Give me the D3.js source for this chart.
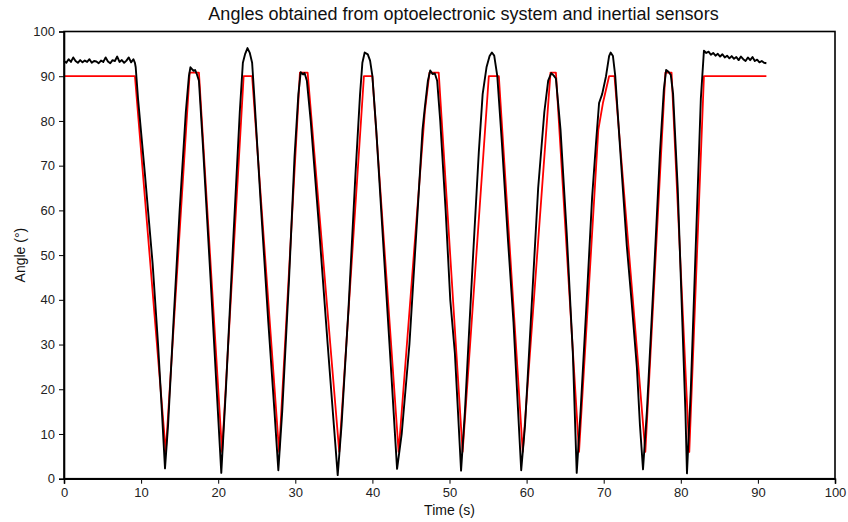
<!DOCTYPE html>
<html>
<head>
<meta charset="utf-8">
<script src="https://cdn.jsdelivr.net/npm/d3@7"></script>
<style>
  html, body { margin: 0; padding: 0; background: #fff; }
  svg { display: block; font-family: "Liberation Sans", Arial, Helvetica, sans-serif; }
</style>
</head>
<body>
<svg id="chart" width="848" height="522"></svg>
<script>
const title = "Angles obtained from optoelectronic system and inertial sensors";
const xLabel = "Time (s)";
const yLabel = "Angle (°)";
const xTicks = [0, 10, 20, 30, 40, 50, 60, 70, 80, 90, 100];
const yTicks = [0, 10, 20, 30, 40, 50, 60, 70, 80, 90, 100];

// Reference (optoelectronic) series – red
const redTime = [0, 9.2, 13.2, 16.3, 17.5, 20.5, 23.3, 24.4, 27.9, 30.6, 31.6, 35.7, 38.9, 40.0, 43.4, 46.8, 47.4, 48.6, 51.7, 55.1, 56.4, 59.5, 63.1, 63.8, 66.8, 69.3, 69.9, 70.7, 71.4, 75.4, 78.0, 78.8, 81.1, 83.0, 91.1];
const redAngle = [90, 90, 6, 90.8, 90.8, 6, 90, 90, 6, 90.8, 90.8, 6, 90, 90, 6, 82, 90.8, 90.8, 6, 90, 90, 6, 90.8, 90.8, 6, 78, 84, 90, 90, 6, 90.8, 90.8, 6, 90, 90];

// Inertial sensor series – black
const blackTime = [
  0, 0.3, 0.6, 0.9, 1.2, 1.5, 1.8, 2.1, 2.4, 2.7, 3.0, 3.3, 3.6, 3.9, 4.2, 4.5, 4.8, 5.1, 5.4, 5.7, 6.0, 6.3, 6.6, 6.9, 7.2, 7.5, 7.8, 8.1, 8.4, 8.7, 9.0, 9.2,
  9.3, 9.6, 10.5, 11.5, 12.2, 12.7, 13.1,
  13.5, 14.2, 15.0, 15.8, 16.2, 16.4, 16.8, 17.0, 17.2, 17.5, 18.0, 19.0, 19.8, 20.4,
  21.0, 22.0, 22.8, 23.2, 23.5, 23.8, 24.1, 24.4, 24.7, 25.5, 26.5, 27.3, 27.8,
  28.3, 29.2, 29.9, 30.4, 30.7, 31.0, 31.2, 31.5, 32.0, 33.0, 34.2, 35.0, 35.5,
  36.0, 36.9, 37.8, 38.4, 38.7, 39.0, 39.4, 39.7, 40.0, 40.5, 41.5, 42.4, 43.2,
  43.8, 44.8, 45.8, 46.5, 46.8, 47.2, 47.5, 47.8, 48.1, 48.4, 48.8, 49.5, 50.1, 50.7, 51.1, 51.5,
  52.0, 53.0, 53.8, 54.3, 54.8, 55.2, 55.5, 55.8, 56.2, 56.8, 57.6, 58.3, 58.9, 59.3,
  59.8, 60.7, 61.5, 62.3, 62.8, 63.2, 63.5, 63.8, 64.4, 65.2, 66.0, 66.5,
  67.0, 67.8, 68.5, 69.0, 69.4, 69.8, 70.3, 70.7, 70.9, 71.2, 71.5, 72.2, 73.0, 73.6, 74.3, 74.7, 75.1,
  75.6, 76.5, 77.3, 77.8, 78.1, 78.4, 78.7, 79.0, 79.6, 80.2, 80.6, 80.8,
  81.3, 82.0, 82.6, 83.0, 83.3, 83.6, 83.9, 84.2, 84.5, 84.8, 85.1, 85.4, 85.7, 86.0, 86.3, 86.6, 86.9, 87.2, 87.5, 87.8, 88.1, 88.4, 88.7, 89.0, 89.3, 89.6, 89.9, 90.2, 90.5, 90.8, 91.1
];
const blackAngle = [
  93.4, 93.0, 93.8, 93.2, 94.2, 93.4, 93.0, 93.6, 93.1, 93.5, 93.2, 93.8, 93.0, 93.4, 93.3, 92.9, 93.5, 93.2, 94.2, 93.3, 92.9, 93.6, 93.4, 94.4, 93.2, 93.6, 93.0, 93.5, 94.2, 93.1, 93.8, 93.0,
  92, 85, 68, 48, 30, 15, 2.3,
  12, 35, 60, 82, 90, 92, 91.2, 91.4, 90.6, 89, 75, 45, 20, 1.3,
  20, 55, 82, 93, 95, 96.3, 95.2, 93, 85, 62, 35, 15, 1.9,
  15, 45, 72, 86, 90.9, 90.4, 90.7, 89, 80, 58, 30, 12, 0.8,
  12, 38, 68, 86, 93, 95.3, 94.9, 93.5, 90, 78, 50, 25, 2.2,
  10, 30, 58, 78, 83, 89, 91.3, 90.5, 90.6, 89, 80, 60, 40, 28, 15, 1.8,
  15, 48, 73, 86, 92, 94.5, 95.3, 94.6, 90, 75, 53, 35, 15, 1.9,
  12, 40, 65, 82, 89, 90.7, 90.2, 89.5, 78, 55, 28, 1.3,
  15, 40, 63, 75, 84, 86, 90, 94.5, 95.3, 94.5, 90, 72, 52, 40, 25, 12, 2.1,
  15, 45, 73, 87, 91.4, 91, 90.3, 86, 65, 35, 15, 1.2,
  20, 55, 85, 95.7, 95.2, 95.5, 94.8, 95.2, 94.6, 95.0, 94.4, 94.9, 94.2, 94.6, 94.0, 94.5, 93.9, 94.3, 93.6, 94.4, 93.8, 93.4, 94.2, 93.6, 94.3, 93.4, 93.7, 93.1, 93.4, 93.0, 92.9
];

const W = 848, H = 522;
const margin = { left: 64, right: 13, top: 31.5, bottom: 43.3 };
const svg = d3.select("#chart");

const x = d3.scaleLinear().domain([0, 100]).range([margin.left, W - margin.right]);
const y = d3.scaleLinear().domain([0, 100]).range([H - margin.bottom, margin.top]);

const redData = redTime.map((t, i) => [t, redAngle[i]]);
const blackData = blackTime.map((t, i) => [t, blackAngle[i]]);

const line = d3.line().x(d => x(d[0])).y(d => y(d[1]));

svg.append("path").datum(redData)
  .attr("d", line).attr("fill", "none")
  .attr("stroke", "#ff0000").attr("stroke-width", 1.8).attr("stroke-linejoin", "round");

svg.append("path").datum(blackData)
  .attr("d", line).attr("fill", "none")
  .attr("stroke", "#000").attr("stroke-width", 1.9).attr("stroke-linejoin", "round");

// frame
svg.append("rect")
  .attr("x", x(0)).attr("y", y(100))
  .attr("width", x(100) - x(0)).attr("height", y(0) - y(100))
  .attr("fill", "none").attr("stroke", "#000").attr("stroke-width", 1.6);

const xAxis = svg.append("g")
  .attr("transform", `translate(0,${y(0)})`)
  .call(d3.axisBottom(x).tickValues(xTicks).tickSize(5).tickPadding(4).tickFormat(d3.format("d")));
const yAxis = svg.append("g")
  .attr("transform", `translate(${x(0)},0)`)
  .call(d3.axisLeft(y).tickValues(yTicks).tickSize(5).tickPadding(4).tickFormat(d3.format("d")));

[xAxis, yAxis].forEach(g => {
  g.select(".domain").attr("stroke-width", 1.6);
  g.selectAll(".tick line").attr("stroke-width", 1);
  g.selectAll(".tick text").attr("font-size", 13).attr("fill", "#222")
    .attr("font-family", "'Liberation Sans', Arial, sans-serif");
});

svg.append("text")
  .attr("x", (x(0) + x(100)) / 2 + 14).attr("y", 20)
  .attr("text-anchor", "middle").attr("font-size", 18).attr("fill", "#111")
  .text(title);

svg.append("text")
  .attr("x", (x(0) + x(100)) / 2).attr("y", 515)
  .attr("text-anchor", "middle").attr("font-size", 14).attr("fill", "#111")
  .text(xLabel);

svg.append("text")
  .attr("transform", `translate(25,${(y(0) + y(100)) / 2}) rotate(-90)`)
  .attr("text-anchor", "middle").attr("font-size", 14).attr("fill", "#111")
  .text(yLabel);
</script>
</body>
</html>
